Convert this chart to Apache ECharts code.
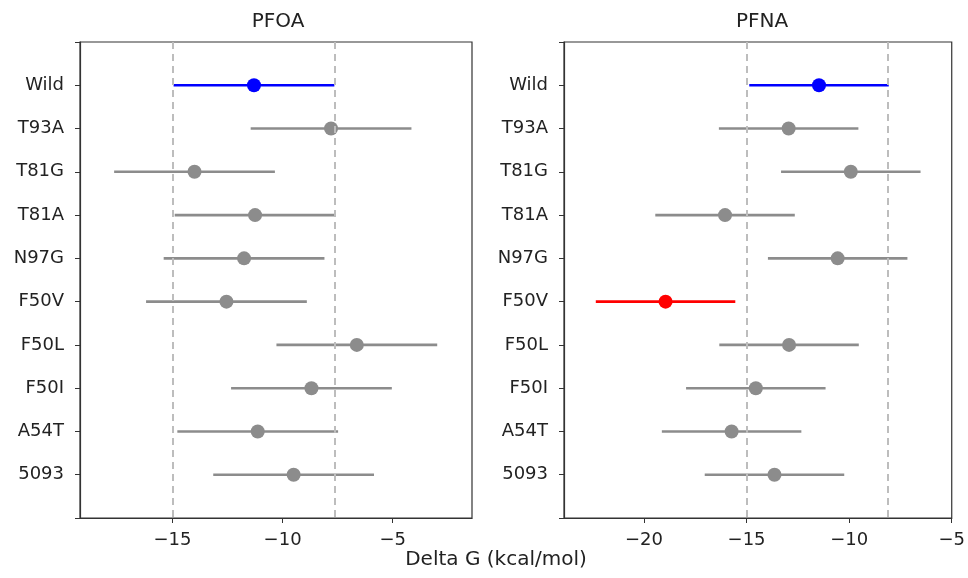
<!DOCTYPE html>
<html>
<head>
<meta charset="utf-8">
<script src="https://cdn.jsdelivr.net/npm/echarts@6/dist/echarts.min.js"></script>
<style>
  html, body { margin: 0; background: #fff; }
  #chart { width: 968px; height: 578px; }
</style>
</head>
<body>
<div id="chart"></div>
<script>
// mutants, top to bottom
const mutants = ['Wild', 'T93A', 'T81G', 'T81A', 'N97G', 'F50V', 'F50L', 'F50I', 'A54T', '5093']

// PFOA panel: mean and half-width of the error bar
const pfoaMean = [-11.3, -7.8, -14.0, -11.25, -11.75, -12.55, -6.63, -8.69, -11.13, -9.5]
const pfoaErr = [3.65, 3.65, 3.65, 3.65, 3.65, 3.65, 3.65, 3.65, 3.65, 3.65]
const pfoaRefLines = [-15, -7.65]
const pfoaTicks = [-15, -10, -5]

// PFNA panel
const pfnaMean = [-11.47, -12.95, -9.92, -16.05, -10.56, -18.95, -12.93, -14.55, -15.73, -13.64]
const pfnaErr = [3.4, 3.4, 3.4, 3.4, 3.4, 3.4, 3.4, 3.4, 3.4, 3.4]
const pfnaRefLines = [-15, -8.1]
const pfnaTicks = [-20, -15, -10, -5]

// 高亮的点（其余为灰色）
const pfoaHighlight = { Wild: '#0000ff' }
const pfnaHighlight = { Wild: '#0000ff', F50V: '#ff0000' }
const GREY = '#8c8c8c'

const FONT = 'DejaVu Sans'
const fmtMinus = v => String(v).replace('-', '\u2212')

function errorBarSeries(idx, mean, err, highlight) {
  return {
    type: 'custom',
    xAxisIndex: idx,
    yAxisIndex: idx,
    data: mean.map((m, i) => [m - err[i], m + err[i], i]),
    renderItem(params, api) {
      const lo = api.coord([api.value(0), api.value(2)])
      const hi = api.coord([api.value(1), api.value(2)])
      const name = mutants[api.value(2)]
      return {
        type: 'line',
        shape: { x1: lo[0], y1: lo[1], x2: hi[0], y2: hi[1] },
        style: { stroke: highlight[name] || GREY, lineWidth: 2.6 }
      }
    },
    z: 3
  }
}

function pointSeries(idx, mean, highlight) {
  return {
    type: 'scatter',
    xAxisIndex: idx,
    yAxisIndex: idx,
    symbolSize: 14,
    data: mean.map((m, i) => [m, i]),
    itemStyle: {
      color: p => highlight[mutants[p.data[1]]] || GREY,
      opacity: 1
    },
    markLine: {
      silent: true,
      symbol: 'none',
      label: { show: false },
      lineStyle: { color: '#bdbdbd', type: [7, 5], width: 2 },
      data: (idx === 0 ? pfoaRefLines : pfnaRefLines).map(v => ({ xAxis: v }))
    },
    z: 4
  }
}

function xAxis(idx, min, max, ticks) {
  return {
    type: 'value',
    gridIndex: idx,
    min, max,
    axisLine: { show: true, onZero: false, lineStyle: { color: '#333', width: 1.2 } },
    axisTick: { show: true, length: 5, customValues: ticks, lineStyle: { color: '#333' } },
    axisLabel: { customValues: ticks, formatter: fmtMinus, color: '#222', fontFamily: FONT, fontSize: 18, margin: 13 },
    splitLine: { show: false }
  }
}

function yAxis(idx) {
  return {
    type: 'value',
    gridIndex: idx,
    inverse: true,
    min: -1, max: 10, interval: 1,
    axisLine: { show: true, onZero: false, lineStyle: { color: '#333', width: 1.2 } },
    axisTick: { show: true, length: 5, lineStyle: { color: '#333' } },
    axisLabel: { formatter: v => mutants[v] || '', color: '#222', fontFamily: FONT, fontSize: 18, margin: 16 },
    splitLine: { show: false }
  }
}

const titleStyle = { fontFamily: FONT, fontSize: 20, fontWeight: 'normal', color: '#222' }

const chart = echarts.init(document.getElementById('chart'), null, { renderer: 'canvas' })
chart.setOption({
  backgroundColor: '#fff',
  animation: false,
  title: [
    { text: 'PFOA', left: 273, top: 7, textAlign: 'center', textStyle: titleStyle },
    { text: 'PFNA', left: 757, top: 7, textAlign: 'center', textStyle: titleStyle }
  ],
  grid: [
    { left: 80, top: 42, width: 392, height: 476, show: true, borderColor: '#333', borderWidth: 1.2, backgroundColor: 'transparent' },
    { left: 564, top: 42, width: 389, height: 476, show: true, borderColor: '#333', borderWidth: 1.2, backgroundColor: 'transparent' }
  ],
  xAxis: [xAxis(0, -19.2, -1.4, pfoaTicks), xAxis(1, -23.9, -5, pfnaTicks)],
  yAxis: [yAxis(0), yAxis(1)],
  graphic: [{
    type: 'text',
    x: 496,
    y: 560,
    style: { text: 'Delta G (kcal/mol)', font: '20px "DejaVu Sans"', fill: '#222', align: 'center', verticalAlign: 'middle' }
  }],
  series: [
    errorBarSeries(0, pfoaMean, pfoaErr, pfoaHighlight),
    pointSeries(0, pfoaMean, pfoaHighlight),
    errorBarSeries(1, pfnaMean, pfnaErr, pfnaHighlight),
    pointSeries(1, pfnaMean, pfnaHighlight)
  ]
})
</script>
</body>
</html>
